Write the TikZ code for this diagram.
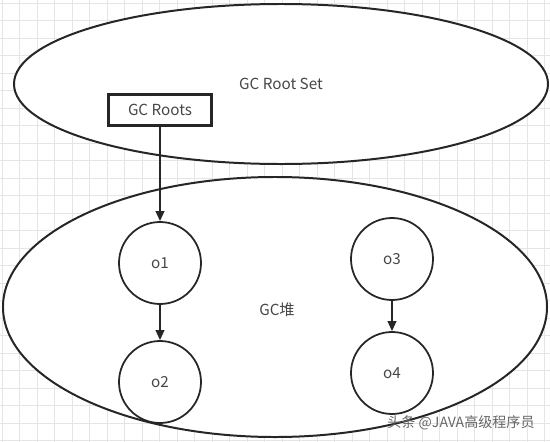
\documentclass[tikz,border=0pt]{standalone}
\usepackage{fontspec}
\setmainfont{Noto Sans CJK SC}
\usepackage{tikz}
\usetikzlibrary{arrows.meta,shapes.geometric}

\begin{document}
\begin{tikzpicture}[
  x=0.03cm, y=-0.03cm,
  font=\fontsize{13}{15}\selectfont,
  every node/.style={text=black!72},
  gridline/.style={draw=black!10, line width=0.5pt},
  set/.style={draw=black!85, ellipse, line width=1.7pt, fill=white},
  rootbox/.style={draw=black!85, line width=2pt, fill=white,
                  minimum width=3.09cm, minimum height=0.93cm},
  obj/.style={draw=black!85, circle, line width=1.5pt, fill=white,
              minimum size=2.46cm},
  arrow/.style={-{Triangle[length=3mm, width=2.6mm]}, line width=1.5pt, draw=black!85}
]
\useasboundingbox (0,0) rectangle (550,442);
\fill[white] (0,0) rectangle (550,442);

% ---- Grid background ----
\foreach \gx in {2,19.5,...,550} \draw[gridline] (\gx,0) -- (\gx,442);
\foreach \gy in {3,20.5,...,442} \draw[gridline] (0,\gy) -- (550,\gy);

% ---- Root set ----
\node[set, minimum width=16.02cm, minimum height=4.8cm] (rootset) at (281,84) {};
\node (rootlab) at (281,84) {GC Root Set};
\node[rootbox] (roots) at (160,110) {GC Roots};

% ---- Heap ----
\node[set, minimum width=16.32cm, minimum height=7.8cm] (heap) at (275,307) {};
\node (heaplab) at (277,310) {GC堆};

% ---- Objects ----
\node[obj] (o1) at (160,263) {o1};
\node[obj] (o2) at (160,382) {o2};
\node[obj] (o3) at (392,259) {o3};
\node[obj] (o4) at (392,373) {o4};

% ---- References ----
\draw[arrow] (roots) -- (o1);
\draw[arrow] (o1) -- (o2);
\draw[arrow] (o3) -- (o4);

% ---- Watermark ----
\node[text=black!60, font=\fontsize{12}{14}\selectfont] (mark) at (461,423) {头条 @JAVA高级程序员};
\end{tikzpicture}
\end{document}
